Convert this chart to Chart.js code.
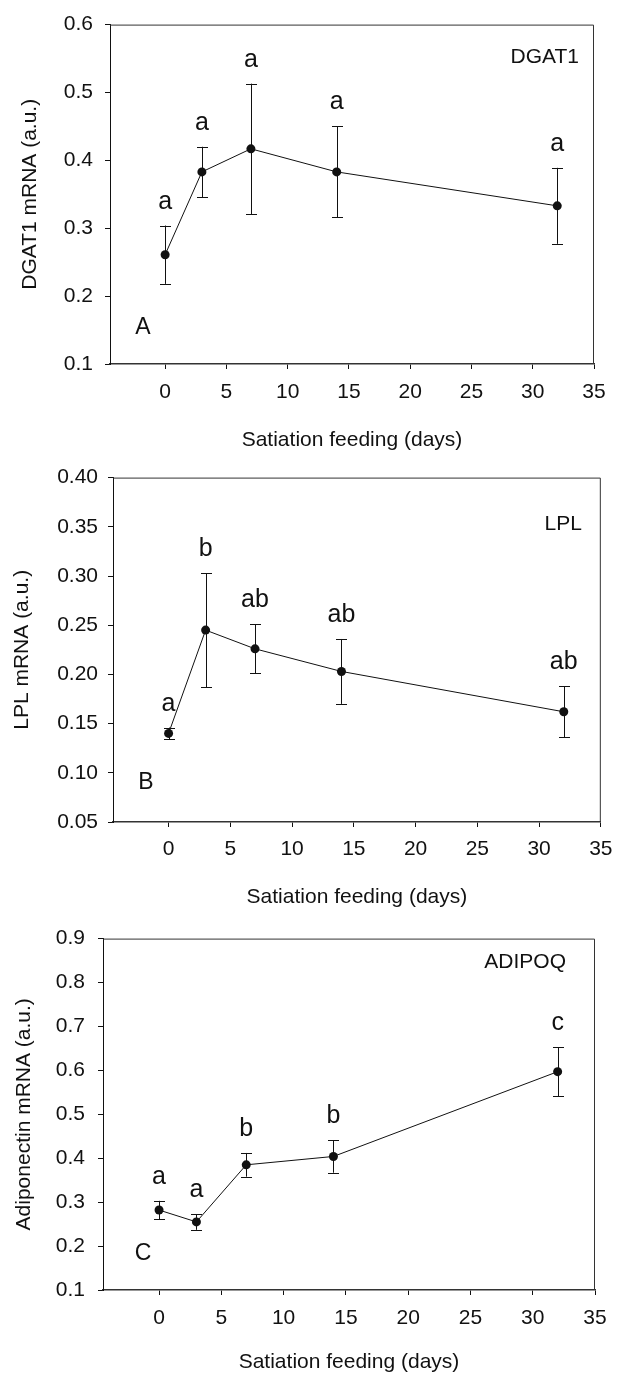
<!DOCTYPE html>
<html>
<head>
<meta charset="utf-8">
<script src="https://cdn.jsdelivr.net/npm/chart.js@4"></script>
<style>
  html, body { margin: 0; padding: 0; background: #fff; }
  body { width: 622px; height: 1376px; position: relative; overflow: hidden; }
  canvas { position: absolute; left: 0; }
</style>
</head>
<body>
<canvas id="chart-dgat1" width="622" height="455" style="top:0px"></canvas>
<canvas id="chart-lpl" width="622" height="458" style="top:455px"></canvas>
<canvas id="chart-adipoq" width="622" height="463" style="top:913px"></canvas>
<script>
// Days of satiation feeding, shared by all three panels
const days = [0, 3, 7, 14, 32];
const dayTicks = [0, 5, 10, 15, 20, 25, 30, 35];

// Panel A - DGAT1
const dgat1Mean = [0.261, 0.383, 0.417, 0.383, 0.333];
const dgat1Err = [0.043, 0.037, 0.096, 0.067, 0.056];
const dgat1Groups = ['a', 'a', 'a', 'a', 'a'];
const dgat1Ticks = [0.1, 0.2, 0.3, 0.4, 0.5, 0.6];

// Panel B - LPL
const lplMean = [0.140, 0.245, 0.226, 0.203, 0.162];
const lplErr = [0.006, 0.058, 0.025, 0.033, 0.026];
const lplGroups = ['a', 'b', 'ab', 'ab', 'ab'];
const lplTicks = [0.05, 0.10, 0.15, 0.20, 0.25, 0.30, 0.35, 0.40];

// Panel C - adiponectin
const adipoqMean = [0.282, 0.255, 0.385, 0.404, 0.597];
const adipoqErr = [0.021, 0.018, 0.027, 0.037, 0.056];
const adipoqGroups = ['a', 'a', 'b', 'b', 'c'];
const adipoqTicks = [0.1, 0.2, 0.3, 0.4, 0.5, 0.6, 0.7, 0.8, 0.9];

const FONT = '"Liberation Sans", Arial, Helvetica, sans-serif';
const INK = '#111';

// frame, error bars, significance letters and panel captions
const decorPlugin = {
    id: 'panelDecor',
    afterDatasetsDraw(chart) {
        const cfg = chart.options.plugins.panelDecor;
        const { ctx: c, chartArea: a } = chart;
        const xs = chart.scales.x;
        const ys = chart.scales.y;
        c.save();

        c.strokeStyle = '#333';
        c.lineWidth = 1;
        c.beginPath();
        c.moveTo(a.left, a.top + 0.5);
        c.lineTo(a.right - 0.5, a.top + 0.5);
        c.lineTo(a.right - 0.5, a.bottom);
        c.stroke();

        c.strokeStyle = INK;
        c.lineWidth = 1;
        cfg.mean.forEach((m, i) => {
            const px = Math.round(xs.getPixelForValue(days[i])) + 0.5;
            const yHi = ys.getPixelForValue(m + cfg.err[i]);
            const yLo = ys.getPixelForValue(m - cfg.err[i]);
            c.beginPath();
            c.moveTo(px, yHi);
            c.lineTo(px, yLo);
            c.moveTo(px - 5.5, Math.round(yHi) + 0.5);
            c.lineTo(px + 5.5, Math.round(yHi) + 0.5);
            c.moveTo(px - 5.5, Math.round(yLo) + 0.5);
            c.lineTo(px + 5.5, Math.round(yLo) + 0.5);
            c.stroke();
        });

        c.fillStyle = INK;
        c.font = `25px ${FONT}`;
        c.textAlign = 'center';
        c.textBaseline = 'alphabetic';
        cfg.groups.forEach((g, i) => {
            const px = xs.getPixelForValue(days[i]);
            const yHi = ys.getPixelForValue(cfg.mean[i] + cfg.err[i]);
            c.fillText(g, px, yHi - 17);
        });

        c.font = `21px ${FONT}`;
        c.textAlign = 'right';
        c.textBaseline = 'middle';
        c.fillText(cfg.gene, a.right - cfg.geneDx, a.top + cfg.geneDy);

        c.font = `23px ${FONT}`;
        c.textAlign = 'center';
        c.fillText(cfg.letter, a.left + cfg.letterDx, a.bottom - cfg.letterDy);
        c.restore();
    },
};

function createPanel(id, opts) {
    const canvas = document.getElementById(id);
    if (!canvas) return null;
    const ctx = canvas.getContext('2d');
    const points = days.map((d, i) => ({ x: d, y: opts.mean[i] }));

    return new Chart(ctx, {
        type: 'scatter',
        data: {
            datasets: [
                {
                    data: points,
                    showLine: true,
                    borderColor: INK,
                    borderWidth: 1,
                    tension: 0,
                    pointRadius: 4.5,
                    pointBackgroundColor: INK,
                    pointBorderColor: INK,
                    pointBorderWidth: 0,
                },
            ],
        },
        plugins: [decorPlugin],
        options: {
            responsive: false,
            animation: false,
            events: [],
            layout: { padding: { top: opts.top, right: opts.right, bottom: 0, left: 0 } },
            plugins: {
                legend: { display: false },
                tooltip: { enabled: false },
                panelDecor: opts,
            },
            scales: {
                x: {
                    type: 'linear',
                    min: -4.5,
                    max: 35,
                    afterBuildTicks: s => { s.ticks = dayTicks.map(v => ({ value: v })); },
                    afterFit: s => { s.height = opts.xHeight; },
                    grid: { drawOnChartArea: false, drawTicks: true, tickLength: 5, tickColor: INK, lineWidth: 1 },
                    border: { display: true, color: '#333', width: 1.5 },
                    ticks: {
                        padding: opts.xPad,
                        color: INK,
                        font: { family: FONT, size: 21 },
                        maxRotation: 0,
                        callback: v => String(v),
                    },
                    title: {
                        display: true,
                        text: 'Satiation feeding (days)',
                        color: INK,
                        font: { family: FONT, size: 21 },
                        padding: { top: 0, bottom: opts.xTitlePad },
                    },
                },
                y: {
                    min: opts.ticks[0],
                    max: opts.ticks[opts.ticks.length - 1],
                    afterBuildTicks: s => { s.ticks = opts.ticks.map(v => ({ value: v })); },
                    afterFit: s => { s.width = opts.yWidth; },
                    grid: { drawOnChartArea: false, drawTicks: true, tickLength: 5, tickColor: INK, lineWidth: 1 },
                    border: { display: true, color: INK, width: 1 },
                    ticks: {
                        padding: opts.yPad,
                        color: INK,
                        font: { family: FONT, size: 21 },
                        callback: v => v.toFixed(opts.decimals),
                    },
                    title: {
                        display: true,
                        text: opts.yTitle,
                        color: INK,
                        font: { family: FONT, size: 21 },
                        padding: { top: opts.yTitlePad, bottom: 0 },
                    },
                },
            },
        },
    });
}

createPanel('chart-dgat1', {
    mean: dgat1Mean, err: dgat1Err, groups: dgat1Groups, ticks: dgat1Ticks, decimals: 1,
    yTitle: 'DGAT1 mRNA (a.u.)', gene: 'DGAT1', letter: 'A',
    top: 16, right: 28, yWidth: 110, xHeight: 91,
    xPad: 11, yPad: 12, xTitlePad: 2.4, yTitlePad: 17.4,
    geneDx: 15, geneDy: 33, letterDx: 33, letterDy: 36,
});

createPanel('chart-lpl', {
    mean: lplMean, err: lplErr, groups: lplGroups, ticks: lplTicks, decimals: 2,
    yTitle: 'LPL mRNA (a.u.)', gene: 'LPL', letter: 'B',
    top: 14, right: 19, yWidth: 113, xHeight: 91,
    xPad: 9.5, yPad: 10, xTitlePad: 3.4, yTitlePad: 9.4,
    geneDx: 19, geneDy: 47, letterDx: 33, letterDy: 39,
});

createPanel('chart-adipoq', {
    mean: adipoqMean, err: adipoqErr, groups: adipoqGroups, ticks: adipoqTicks, decimals: 1,
    yTitle: 'Adiponectin mRNA (a.u.)', gene: 'ADIPOQ', letter: 'C',
    top: 23, right: 27, yWidth: 103, xHeight: 86,
    xPad: 10.5, yPad: 13, xTitlePad: 1.4, yTitlePad: 11.9,
    geneDx: 29, geneDy: 24, letterDx: 40, letterDy: 36,
});
</script>
</body>
</html>
